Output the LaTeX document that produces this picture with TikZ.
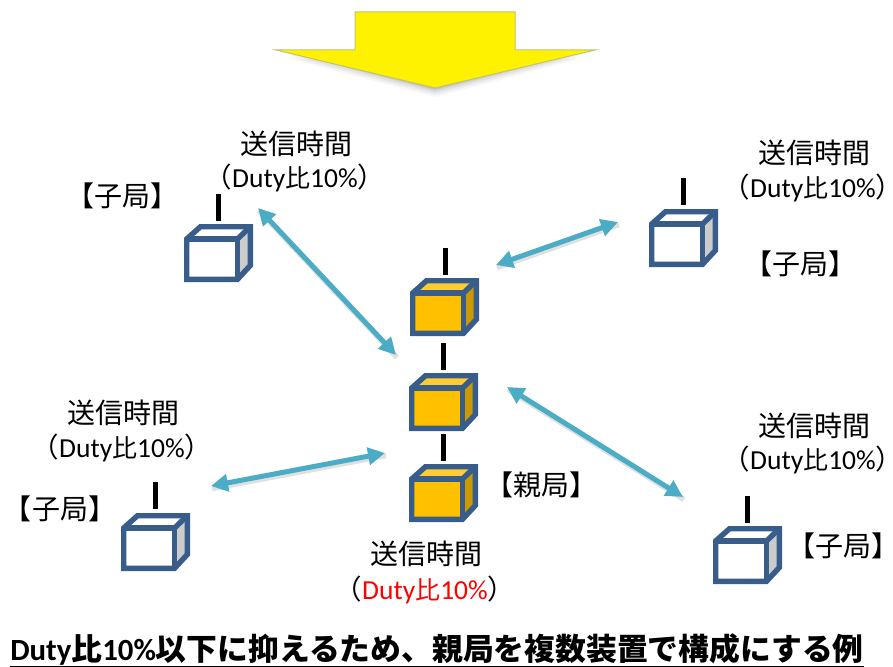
\documentclass[tikz,border=0pt]{standalone}
\usepackage{fontspec}
\setmainfont{Carlito}
\newfontfamily\cjk{Noto Sans CJK JP}
\newfontfamily\cjkb{Noto Sans CJK JP Bold}
\newcommand{\cj}[1]{{\cjk #1}}
\newcommand{\dutylabel}[1][black]{\fontsize{27.5}{31}\selectfont\hspace*{-.45em}\textcolor{black}{\cj{（}}\textcolor{#1}{Duty\cj{\fontsize{25}{30}\selectfont 比}10\%}\textcolor{black}{\cj{）}}\hspace*{-.45em}}
\newcommand{\tightk}[1]{\hspace*{-.4em}#1\hspace*{-.4em}}
\usetikzlibrary{arrows.meta}
\definecolor{cubeline}{HTML}{385D8A}
\definecolor{link}{HTML}{4BACC6}
\definecolor{gold}{HTML}{FFC000}
\definecolor{goldtop}{HTML}{FFCD33}
\definecolor{goldside}{HTML}{CC9A00}
\definecolor{greyside}{HTML}{CCCCCC}
\definecolor{arrowedge}{HTML}{C4C46A}
\tikzset{
  x=1pt,y=-1pt,
  lbl/.style={font=\fontsize{28}{32}\selectfont\cjk,inner sep=0pt,align=center},
  dty/.style={inner sep=0pt,align=center},
  mast/.style={draw=black,line width=5pt},
  linkline/.style={draw=link,line width=5pt,{Triangle[length=17pt,width=17pt]}-{Triangle[length=17pt,width=17pt]}},
  linkshadow/.style={draw=black,opacity=.12,line width=5.5pt},
  pics/cube/.style n args={3}{code={
    \path[fill=#1] (2.5,15) rectangle (53.5,55.5);
    \path[fill=#2] (2.5,15) -- (17,2.5) -- (66.5,2.5) -- (53.5,15) -- cycle;
    \path[fill=#3] (53.5,15) -- (66.5,2.5) -- (66.5,41) -- (53.5,55.5) -- cycle;
    \draw[cubeline,line width=5.4pt,line join=miter] (2.7,15) -- (16.5,2.7) -- (66.3,2.7) -- (66.3,41.5) -- (53.5,55.3) -- (2.7,55.3) -- cycle;
    \draw[cubeline,line width=5.4pt] (2.7,15) -- (53.5,15) -- (53.5,55.3);
    \draw[cubeline,line width=5.4pt] (53.5,15) -- (66.3,2.7);
  }},
}
\begin{document}
\begin{tikzpicture}
\useasboundingbox (0,0) rectangle (893,666);
% yellow arrow
\foreach \o/\d in {9/.03,7/.04,5/.05,3/.07,1.5/.08}{
  \path[fill=black,opacity=\d] (290,50+\o) -- (580,50+\o) -- (435,88+\o) -- cycle;
}
\path[draw=arrowedge,line width=1pt,fill=yellow]
  (355,12) -- (515,12) -- (515,50) -- (595,50) -- (435,88) -- (276,50) -- (355,50) -- cycle;
% cubes
\coordinate (c1) at (184,224);
\coordinate (c2) at (649,209);
\coordinate (c3) at (121,513);
\coordinate (c4) at (713,526);
\coordinate (p1) at (410,278);
\coordinate (p2) at (409,373);
\coordinate (p3) at (409,464);
\foreach \n in {c1,c2,c3,c4} \pic at (\n) {cube={white}{white}{greyside}};
\foreach \n in {p1,p2,p3} \pic at (\n) {cube={gold}{goldtop}{goldside}};
% antennas
\foreach \n/\a/\b in {m1/218/194,m2/683/178,m3/155/482,m4/747/496,m5/445/248,m6/443/343,m7/443/434}{
  \coordinate (\n a) at (\a,\b);
  \coordinate (\n b) at (\a,\b+26.5);
  \draw[mast] (\n a) -- (\n b);
}
% links
\coordinate (a1) at (258,208); \coordinate (a2) at (396,355);
\coordinate (b1) at (496,265); \coordinate (b2) at (618,222);
\coordinate (d1) at (507,387); \coordinate (d2) at (683,497);
\coordinate (e1) at (211,486); \coordinate (e2) at (385,453);
\foreach \s/\t in {a1/a2,b1/b2,d1/d2,e1/e2}{
  \draw[linkshadow] ([xshift=1pt,yshift=-2.5pt]\s) -- ([xshift=1pt,yshift=-2.5pt]\t);
  \draw[linkline] (\s) -- (\t);
}
% labels
\node[lbl] (t1) at (296,144) {送信時間};
\node[dty] (u1) at (295,178) {\dutylabel};
\node[lbl] (k1) at (122,196) {\tightk{【子局】}};
\node[lbl] (t2) at (814,153) {送信時間};
\node[dty] (u2) at (813,188) {\dutylabel};
\node[lbl] (k2) at (800,264) {\tightk{【子局】}};
\node[lbl] (t3) at (123,413) {送信時間};
\node[dty] (u3) at (122,448) {\dutylabel};
\node[lbl] (k3) at (60,509) {\tightk{【子局】}};
\node[lbl] (t4) at (814,426) {送信時間};
\node[dty] (u4) at (813,460) {\dutylabel};
\node[lbl] (k4) at (843,546) {\tightk{【子局】}};
\node[lbl] (k5) at (541,485) {\tightk{【親局】}};
\node[lbl] (t5) at (426,554) {送信時間};
\node[dty] (u5) at (425,590) {\dutylabel[red]};
\node[inner sep=0pt] (title) at (437,650) {\fontsize{30.8}{35}\selectfont\bfseries\underline{Duty{\cjkb 比}10\%{\cjkb 以下に抑えるため、親局を複数装置で構成にする例}}};
\end{tikzpicture}
\end{document}
